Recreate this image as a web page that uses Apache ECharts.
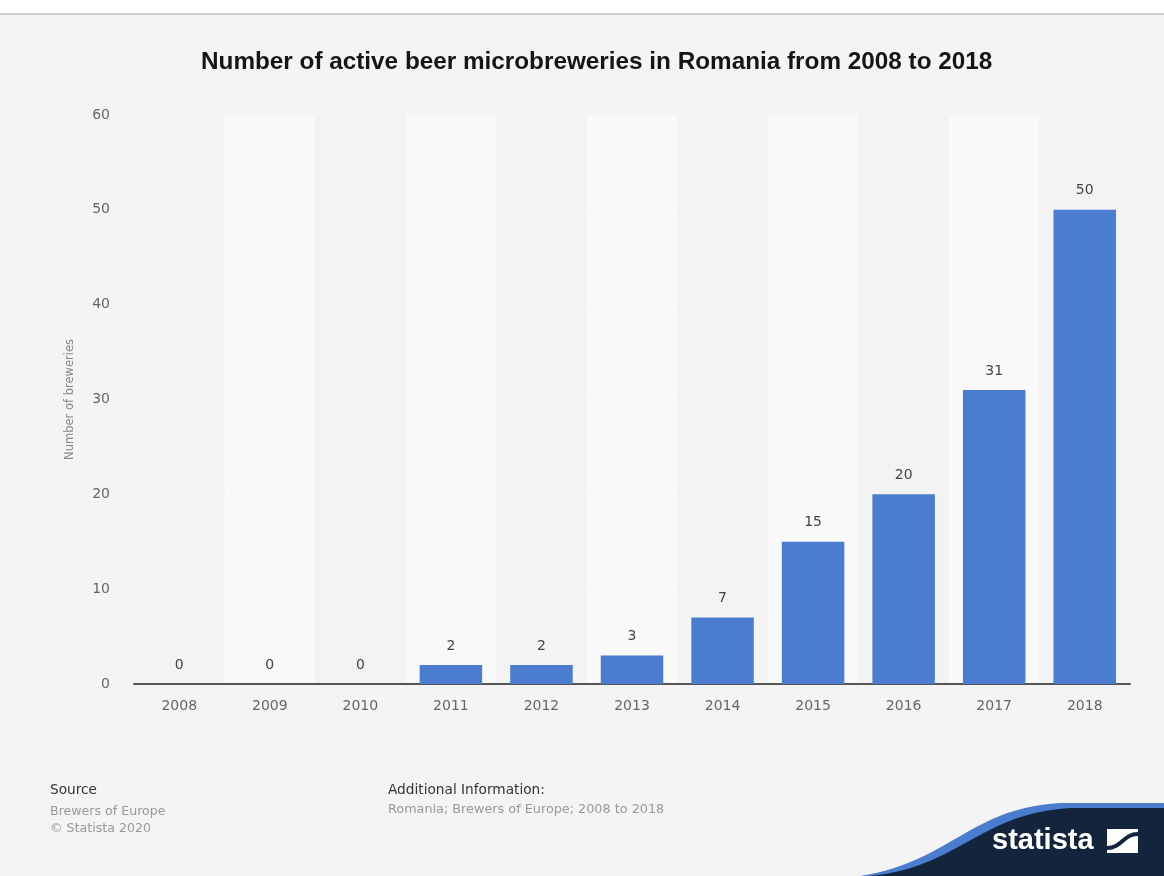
<!DOCTYPE html>
<html>
<head>
<meta charset="utf-8">
<script src="https://cdn.jsdelivr.net/npm/echarts@6/dist/echarts.min.js"></script>
<style>
html,body{margin:0;padding:0;background:#fff;}
#chart{width:1164px;height:876px;}
</style>
</head>
<body>
<div id="chart"></div>
<script>
const categories = ['2008','2009','2010','2011','2012','2013','2014','2015','2016','2017','2018'];
const values = [0,0,0,2,2,3,7,15,20,31,50];
const yTicks = {min:0, max:60, interval:10};
const titleText = 'Number of active beer microbreweries in Romania from 2008 to 2018';
const yAxisName = 'Number of breweries';

// decorative wave outline for the logo band
function bez(p0, p1, p2, p3, n) {
  const pts = [];
  for (let i = 0; i <= n; i++) {
    const t = i / n, u = 1 - t;
    pts.push([
      u*u*u*p0[0] + 3*u*u*t*p1[0] + 3*u*t*t*p2[0] + t*t*t*p3[0],
      u*u*u*p0[1] + 3*u*u*t*p1[1] + 3*u*t*t*p2[1] + t*t*t*p3[1]
    ]);
  }
  return pts;
}
function wave(dx, dy) {
  const pts = bez([860+dx, 876], [950+dx, 862+dy], [970+dx, 808+dy], [1060+dx, 803+dy], 30);
  pts.push([1164, 803+dy], [1164, 876]);
  return pts;
}

const FF = 'Liberation Sans, Arial';
const FD = 'DejaVu Sans, Verdana';
const chart = echarts.init(document.getElementById('chart'));
chart.setOption({
  backgroundColor: '#ffffff',
  animation: false,
  title: {
    text: titleText,
    left: 196,
    top: 45,
    textStyle: {fontFamily: FF, fontSize: 24.3, fontWeight: 'bold', color: '#151515'}
  },
  grid: {left: 134, right: 34, top: 115, bottom: 192},
  xAxis: {
    type: 'category',
    data: categories,
    axisLine: {show: true, lineStyle: {color: '#555', width: 2}},
    axisTick: {show: false},
    axisLabel: {color: '#666', fontSize: 14, margin: 15, fontFamily: FD},
    splitArea: {show: true, areaStyle: {color: ['#f3f3f3', '#f9f9f9']}}
  },
  yAxis: {
    type: 'value',
    min: yTicks.min, max: yTicks.max, interval: yTicks.interval,
    name: yAxisName,
    nameLocation: 'middle',
    nameGap: 58,
    nameTextStyle: {color: '#888', fontSize: 11.5, fontFamily: FD},
    axisLine: {show: false},
    axisTick: {show: false},
    axisLabel: {color: '#666', fontSize: 14, margin: 24, fontFamily: FD},
    splitLine: {lineStyle: {color: '#e6e6e6', width: 1}}
  },
  series: [{
    type: 'bar',
    data: values,
    barCategoryGap: '31%',
    itemStyle: {color: '#4a7ccf'},
    label: {show: true, position: 'top', distance: 12, color: '#444', fontSize: 14, fontFamily: FD}
  }],
  graphic: [
    {type: 'rect', z: -10, silent: true, shape: {x: 0, y: 15, width: 1164, height: 861}, style: {fill: '#f4f4f4'}},
    {type: 'rect', z: -9, silent: true, shape: {x: 0, y: 13, width: 1164, height: 2}, style: {fill: '#cfcfcf'}},
    {type: 'text', x: 50, y: 783, style: {text: 'Source', fill: '#333', font: '13.7px DejaVu Sans, Verdana'}},
    {type: 'text', x: 50, y: 803, style: {text: 'Brewers of Europe\n© Statista 2020', fill: '#999', font: '12.6px DejaVu Sans, Verdana', lineHeight: 17}},
    {type: 'text', x: 388, y: 783, style: {text: 'Additional Information:', fill: '#333', font: '13.7px DejaVu Sans, Verdana'}},
    {type: 'text', x: 388, y: 803, style: {text: 'Romania; Brewers of Europe; 2008 to 2018', fill: '#999', font: '12.8px DejaVu Sans, Verdana'}},
    {type: 'polygon', shape: {points: wave(0, 0)}, style: {fill: '#4a7ccf'}},
    {type: 'polygon', shape: {points: wave(10, 5)}, style: {fill: '#13253c'}},
    {type: 'text', x: 992, y: 826, style: {text: 'statista', fill: '#fff', font: 'bold 29px Liberation Sans, Arial'}},
    {type: 'rect', shape: {x: 1107, y: 829, width: 31, height: 24}, style: {fill: '#fff'}},
    {type: 'bezierCurve', shape: {x1: 1106, y1: 848, cpx1: 1122, cpy1: 849, cpx2: 1123, cpy2: 833, x2: 1139, y2: 834}, style: {stroke: '#13253c', lineWidth: 4, fill: null}}
  ]
});
</script>
</body>
</html>
